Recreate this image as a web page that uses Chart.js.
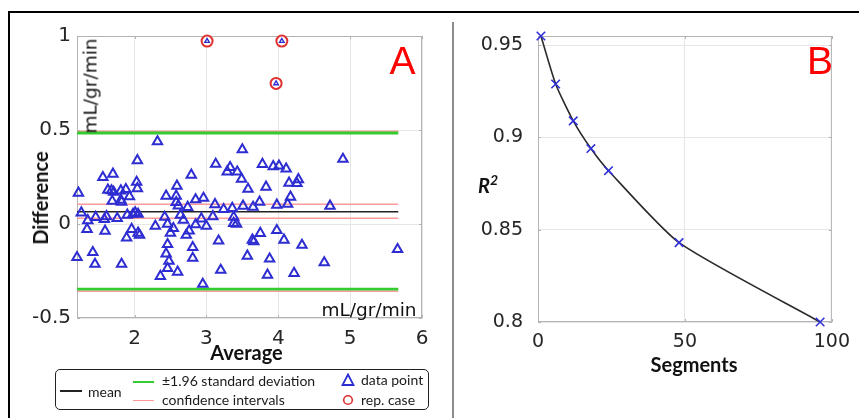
<!DOCTYPE html>
<html>
<head>
<meta charset="utf-8">
<script src="https://cdn.jsdelivr.net/npm/chart.js@4.4.0/dist/chart.umd.min.js"></script>
<style>
body { margin: 0; background: #fff; }
#wrap { position: relative; width: 859px; height: 418px; overflow: hidden; background: #fff; }
canvas { position: absolute; top: 0; }
.t { position: absolute; white-space: nowrap; line-height: 1; transform: translate(-50%, -50%); color: #1a1a1a; }
.l { position: absolute; white-space: nowrap; line-height: 1; transform: translateY(-50%); color: #1a1a1a; font: 14px Lato, sans-serif; }
.ax { font: bold 20px Lato, sans-serif; color: #111; }
.unit { font: 18.5px "DejaVu Sans", sans-serif; color: #111; }
.tag { font: 39px "Liberation Sans", Arial, sans-serif; color: #ff0000; }
.bar { position: absolute; }
</style>
</head>
<body>
<div id="wrap">
  <canvas id="chartA" width="440" height="418" style="left:0"></canvas>
  <canvas id="chartB" width="419" height="418" style="left:440px"></canvas>

  <!-- frame -->
  <div class="bar" style="left:8px;top:11px;width:851px;height:2px;background:#000"></div>
  <div class="bar" style="left:8px;top:11px;width:2px;height:407px;background:#000"></div>
  <div class="bar" style="left:452px;top:22px;width:1.5px;height:396px;background:#8c8c8c"></div>

  <!-- panel A labels -->
  <div class="t tag" style="left:402.5px;top:61px">A</div>
  <div class="t unit" style="left:90px;top:86px;transform:translate(-50%,-50%) rotate(-90deg)">mL/gr/min</div>
  <div class="t unit" style="left:369px;top:309px">mL/gr/min</div>
  <div class="t ax" style="left:246.5px;top:352px">Average</div>
  <div class="t ax" style="left:40px;top:197.5px;transform:translate(-50%,-50%) rotate(-90deg)">Difference</div>

  <!-- legend A -->
  <div class="bar" style="left:55px;top:369px;width:372px;height:39px;border:1.5px solid #222;border-radius:5px"></div>
  <div class="bar" style="left:60px;top:390px;width:22px;height:1.5px;background:#222"></div>
  <div class="l" style="left:88px;top:391px">mean</div>
  <div class="bar" style="left:133px;top:380.5px;width:21px;height:2px;background:#33cc33"></div>
  <div class="l" style="left:162px;top:379.5px">±1.96 standard deviation</div>
  <div class="bar" style="left:133px;top:399.5px;width:21px;height:1.5px;background:#ff9999"></div>
  <div class="l" style="left:162px;top:399px">confidence intervals</div>
  <svg class="bar" style="left:341px;top:373px" width="14" height="14"><polygon points="7,1.5 12.5,12 1.5,12" fill="none" stroke="#2d2dd2" stroke-width="1.8"/></svg>
  <div class="l" style="left:361px;top:378.5px">data point</div>
  <svg class="bar" style="left:341px;top:393px" width="14" height="14"><circle cx="7" cy="7" r="4.3" fill="none" stroke="#e03030" stroke-width="1.6"/></svg>
  <div class="l" style="left:361px;top:399px">rep. case</div>

  <!-- panel B labels -->
  <div class="t tag" style="left:820px;top:60.5px">B</div>
  <div class="t ax" style="left:694px;top:364px">Segments</div>
  <div class="t ax" style="left:488px;top:184px;font-style:italic">R<sup style="font-size:14px;vertical-align:8px">2</sup></div>
</div>

<script>
// ---- panel A: Bland-Altman data ----
const avgVals = [1.22, 2.32, 2.04, 1.56, 1.70, 1.63, 1.68, 1.71, 1.81, 1.88,
  1.93, 2.03, 2.04, 2.44, 2.58, 2.59, 2.79, 2.85, 2.96, 3.13,
  3.29, 3.33, 3.43, 3.49, 3.50, 3.58, 3.78, 3.83, 3.93, 4.01,
  4.11, 4.15, 4.26, 4.28, 4.17, 4.90, 4.72, 3.74, 3.12, 1.69,
  1.81, 1.82, 2.61, 2.74, 3.24, 3.36, 3.51, 3.65, 3.98, 4.13,
  2.01, 2.05, 1.26, 1.46, 1.58, 1.61, 1.76, 1.90, 1.98, 1.35,
  2.42, 2.64, 2.68, 2.85, 2.93, 3.00, 3.09, 3.38, 3.38, 3.42,
  1.34, 1.59, 1.96, 1.89, 2.05, 2.07, 2.29, 2.46, 2.54, 2.50,
  2.72, 2.76, 3.17, 3.64, 3.66, 3.75, 3.98, 4.08, 4.33, 5.66,
  2.46, 2.81, 2.81, 1.42, 1.45, 1.82, 1.20, 2.44, 2.48, 2.46,
  2.60, 2.36, 2.95, 3.20, 3.57, 3.88, 3.85, 4.22, 4.64, 2.58];
const diffVals = [0.165, 0.438, 0.338, 0.248, 0.266, 0.181, 0.178, 0.170, 0.177, 0.184,
  0.146, 0.223, 0.189, 0.149, 0.149, 0.202, 0.261, 0.130, 0.138, 0.319,
  0.278, 0.301, 0.277, 0.239, 0.396, 0.186, 0.318, 0.197, 0.306, 0.309,
  0.293, 0.218, 0.216, 0.237, 0.144, 0.345, 0.096, 0.117, 0.104, 0.122,
  0.128, 0.117, 0.097, 0.089, 0.078, 0.084, 0.096, 0.090, 0.101, 0.106,
  0.060, 0.053, 0.060, 0.036, 0.025, 0.040, 0.030, 0.048, 0.053, 0.019,
  0.037, 0.048, 0.021, -0.003, 0.028, -0.011, 0.040, 0.037, 0.004, 0.000,
  -0.028, -0.037, -0.028, -0.074, -0.048, -0.059, -0.011, 0.000, -0.023, -0.048,
  -0.059, -0.036, -0.090, -0.085, -0.094, -0.049, -0.034, -0.085, -0.112, -0.135,
  -0.108, -0.124, -0.181, -0.151, -0.213, -0.213, -0.177, -0.158, -0.197, -0.236,
  -0.255, -0.278, -0.320, -0.245, -0.170, -0.185, -0.271, -0.262, -0.205, 0.115];
const repAvg = [3.01, 4.05, 3.97];
const repDiff = [0.973, 0.973, 0.748];
const lineSpan = [1.2, 5.67];
const meanDiff = 0.065;
const sdLimits = [0.484, -0.346];
const ciLevels = [0.105, 0.030, 0.493, -0.358];
const xTicksA = [2, 3, 4, 5, 6];
const yTicksA = [-0.5, 0, 0.5, 1];

// ---- panel B: R^2 vs segments ----
const segments = [1, 6, 12, 18, 24, 48, 96];
const r2Vals = [0.955, 0.929, 0.909, 0.894, 0.882, 0.843, 0.800];
const xTicksB = [0, 50, 100];
const yTicksB = [0.8, 0.85, 0.9, 0.95];

Chart.defaults.font.family = 'DejaVu Sans';
Chart.defaults.color = '#262626';
Chart.defaults.animation = false;

const boxColor = '#b3b3b3';
// MATLAB style box around the axes with small inward ticks
const boxPlugin = {
  id: 'box',
  beforeDatasetsDraw(chart) {
    const {ctx, chartArea: a} = chart;
    ctx.save();
    ctx.strokeStyle = boxColor;
    ctx.lineWidth = 1;
    ctx.strokeRect(a.left + 0.5, a.top + 0.5, a.width - 1, a.height - 1);
    ctx.beginPath();
    chart.scales.x.ticks.forEach(t => {
      const px = Math.round(chart.scales.x.getPixelForValue(t.value)) + 0.5;
      ctx.moveTo(px, a.bottom); ctx.lineTo(px, a.bottom - 3);
      ctx.moveTo(px, a.top); ctx.lineTo(px, a.top + 3);
    });
    chart.scales.y.ticks.forEach(t => {
      const py = Math.round(chart.scales.y.getPixelForValue(t.value)) + 0.5;
      ctx.moveTo(a.left, py); ctx.lineTo(a.left + 3, py);
      ctx.moveTo(a.right, py); ctx.lineTo(a.right - 3, py);
    });
    ctx.stroke();
    ctx.restore();
  }
};

function fmt(v) { return String(+v.toFixed(2)); }

function hLine(y, color, width, order) {
  return {
    type: 'line', showLine: true, pointRadius: 0,
    data: lineSpan.map(x => ({x: x, y: y})),
    borderColor: color, borderWidth: width, order: order
  };
}

const gridA = {color: '#e6e6e6', drawTicks: false};

new Chart(document.getElementById('chartA'), {
  type: 'scatter',
  data: {
    datasets: [
      hLine(ciLevels[0], '#ff9a9a', 1.5, 6),
      hLine(ciLevels[1], '#ff9a9a', 1.5, 6),
      hLine(ciLevels[2], '#ff9a9a', 1.5, 6),
      hLine(ciLevels[3], '#ff9a9a', 1.5, 6),
      hLine(sdLimits[0], '#33cc33', 2.8, 5),
      hLine(sdLimits[1], '#33cc33', 2.8, 5),
      hLine(meanDiff, '#222222', 1.6, 4),
      {
        data: avgVals.map((x, i) => ({x: x, y: diffVals[i]})),
        pointStyle: 'triangle', pointRadius: 5.4, borderWidth: 2,
        borderColor: '#2d2dd2', backgroundColor: 'rgba(0,0,0,0)',
        clip: false, order: 2
      },
      {
        data: repAvg.map((x, i) => ({x: x, y: repDiff[i]})),
        pointStyle: 'circle', pointRadius: 5.5, borderWidth: 2,
        borderColor: '#e03030', backgroundColor: '#fff',
        clip: false, order: 1
      },
      {
        data: repAvg.map((x, i) => ({x: x, y: repDiff[i]})),
        pointStyle: 'triangle', pointRadius: 2.6, borderWidth: 1.4,
        borderColor: '#2d2dd2', backgroundColor: 'rgba(0,0,0,0)',
        clip: false, order: 0
      }
    ]
  },
  options: {
    responsive: false,
    events: [],
    layout: {padding: {left: 0, top: 36, right: 18, bottom: 60}},
    plugins: {legend: {display: false}, tooltip: {enabled: false}},
    scales: {
      x: {
        type: 'linear', min: 1.2, max: 6,
        afterBuildTicks: s => { s.ticks = xTicksA.map(v => ({value: v})); },
        afterFit: s => { s.height = 40; },
        ticks: {font: {size: 20}, padding: 9, callback: fmt, maxRotation: 0},
        grid: gridA, border: {display: false}
      },
      y: {
        type: 'linear', min: -0.5, max: 1,
        afterBuildTicks: s => { s.ticks = yTicksA.map(v => ({value: v})); },
        afterFit: s => { s.width = 77; },
        ticks: {font: {size: 20}, padding: 6, callback: fmt},
        grid: gridA, border: {display: false}
      }
    }
  },
  plugins: [boxPlugin]
});

new Chart(document.getElementById('chartB'), {
  type: 'line',
  data: {
    datasets: [{
      data: segments.map((x, i) => ({x: x, y: r2Vals[i]})),
      borderColor: '#2b2b2b', borderWidth: 1.6,
      tension: 0.2,
      pointStyle: 'crossRot', pointRadius: 6, pointBorderWidth: 1.6,
      pointBorderColor: '#3030d8',
      clip: false
    }]
  },
  options: {
    responsive: false,
    events: [],
    layout: {padding: {left: 0, top: 36, right: 22, bottom: 56}},
    plugins: {legend: {display: false}, tooltip: {enabled: false}},
    scales: {
      x: {
        type: 'linear', min: 0, max: 100,
        afterBuildTicks: s => { s.ticks = xTicksB.map(v => ({value: v})); },
        afterFit: s => { s.height = 40; },
        ticks: {font: {size: 19}, padding: 9, callback: fmt, maxRotation: 0},
        grid: gridA, border: {display: false}
      },
      y: {
        type: 'linear', min: 0.8, max: 0.955,
        afterBuildTicks: s => { s.ticks = yTicksB.map(v => ({value: v})); },
        afterFit: s => { s.width = 98; },
        ticks: {font: {size: 19}, padding: 15, callback: fmt},
        grid: gridA, border: {display: false}
      }
    }
  },
  plugins: [boxPlugin]
});
</script>
</body>
</html>
